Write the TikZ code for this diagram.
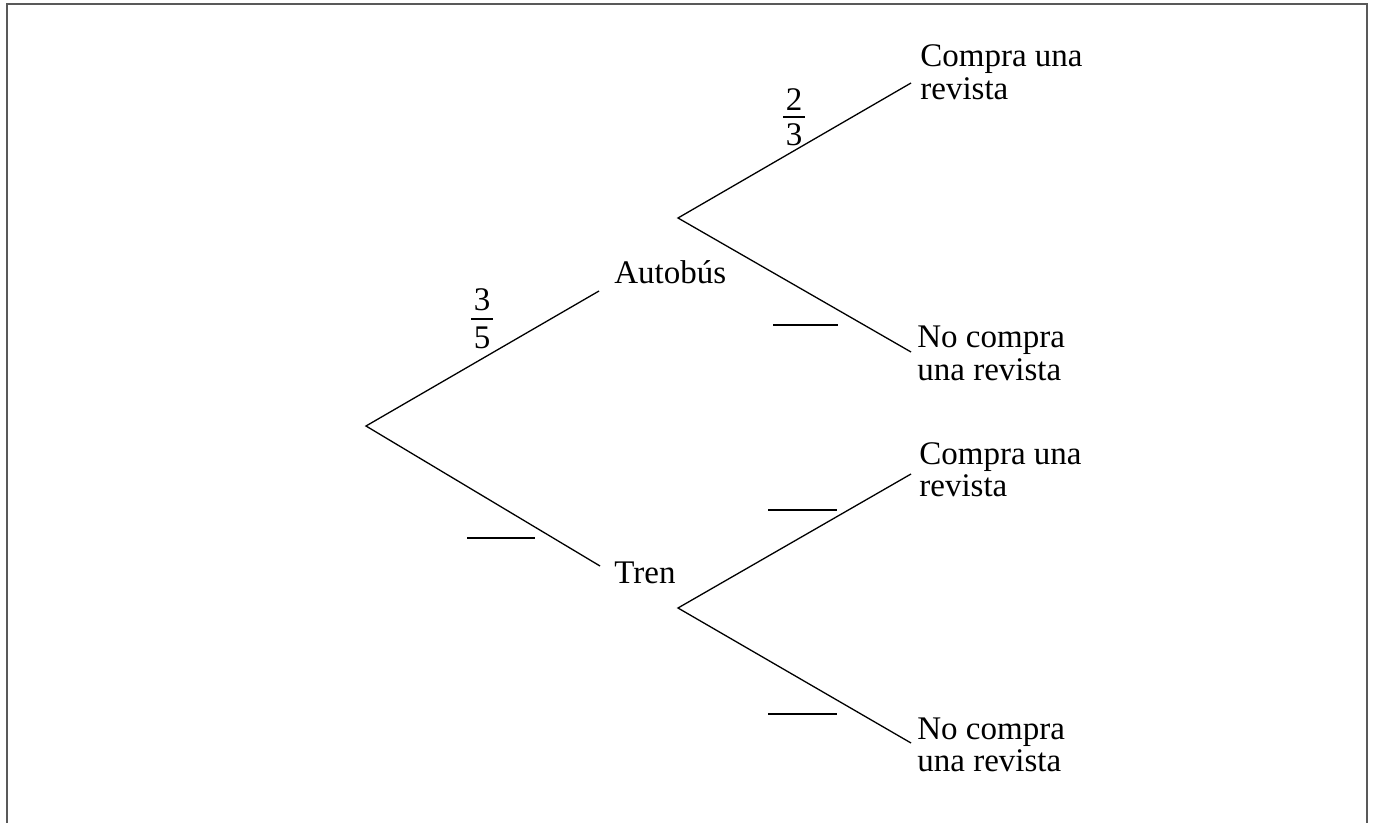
\documentclass[tikz,border=0pt]{standalone}
\usepackage{fontspec}
\setmainfont{Liberation Serif}
\begin{document}
\begin{tikzpicture}[x=0.5pt,y=-0.5pt,
  branch/.style={line width=0.65pt},
  blank/.style={line width=1pt},
  fracbar/.style={line width=0.7pt},
  frame/.style={black!65, line width=1pt},
  lbl/.style={inner sep=0pt, anchor=base west, font=\fontsize{16.5pt}{16.3pt}\selectfont},
  dig/.style={inner sep=0pt, anchor=base, font=\fontsize{16.5pt}{16.3pt}\selectfont}]
\useasboundingbox (0,0) rectangle (1375,823);
\draw[frame] (7,823) -- (7,4.5) -- (1367,4.5) -- (1367,823);

% tree points
\coordinate (root) at (366,426);
\coordinate (aEnd) at (599,291);
\coordinate (tEnd) at (600,566);
\coordinate (aRoot) at (678,218);
\coordinate (tRoot) at (678,608);
\coordinate (aC) at (911,83);
\coordinate (aN) at (911,352);
\coordinate (tC) at (911,474);
\coordinate (tN) at (911,743);

\draw[branch] (aEnd) -- (root) -- (tEnd);
\draw[branch] (aC) -- (aRoot) -- (aN);
\draw[branch] (tC) -- (tRoot) -- (tN);

% labels
\node[lbl] (autobus) at (614,284) {Autobús};
\node[lbl] (tren) at (614,583) {Tren};
\node[lbl] (acompra) at (920,67) {\begin{tabular}[t]{@{}l@{}}Compra una\\revista\end{tabular}};
\node[lbl] (anocompra) at (917,348) {\begin{tabular}[t]{@{}l@{}}No compra\\una revista\end{tabular}};
\node[lbl] (tcompra) at (919,464) {\begin{tabular}[t]{@{}l@{}}Compra una\\revista\end{tabular}};
\node[lbl] (tnocompra) at (917,739) {\begin{tabular}[t]{@{}l@{}}No compra\\una revista\end{tabular}};

% fractions
\node[dig] (n35) at (482,311) {3};
\node[dig] (d35) at (482,349) {5};
\draw[fracbar] (471,319) -- (493,319);
\node[dig] (n23) at (794,111) {2};
\node[dig] (d23) at (794,146) {3};
\draw[fracbar] (783,117) -- (805,117);

% blanks
\draw[blank] (467,538) -- (535,538);
\draw[blank] (773,325) -- (838,325);
\draw[blank] (768,510) -- (837,510);
\draw[blank] (768,714) -- (837,714);
\end{tikzpicture}
\end{document}
